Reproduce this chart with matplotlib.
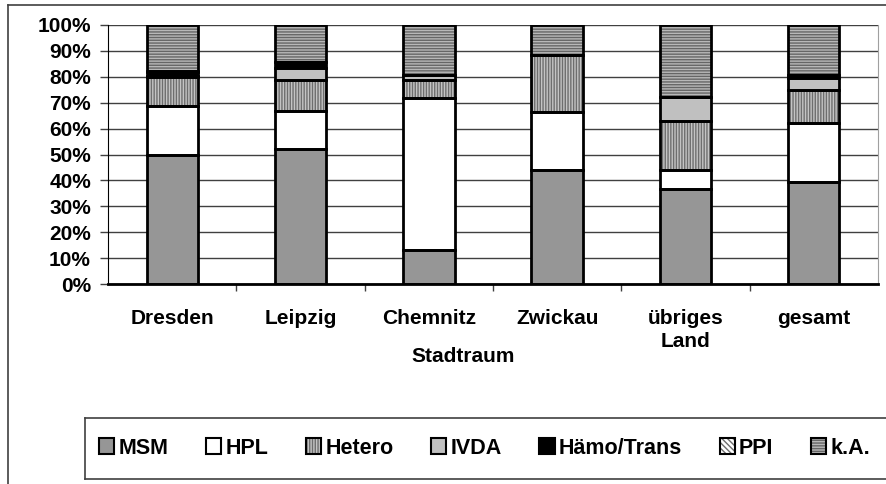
"""
Stacked percentage bars: transmission groups per Stadtraum.
"""

import numpy as np
import matplotlib
matplotlib.use("Agg")
import matplotlib.pyplot as plt
from matplotlib.patches import Patch
from matplotlib.lines import Line2D
from matplotlib.legend_handler import HandlerTuple

plt.rcParams["font.family"] = ["Liberation Sans", "DejaVu Sans"]
plt.rcParams["font.weight"] = "bold"
plt.rcParams["hatch.linewidth"] = 1.0

regions = ["Dresden", "Leipzig", "Chemnitz", "Zwickau", "übriges\nLand", "gesamt"]
groups = ["MSM", "HPL", "Hetero", "IVDA", "Hämo/Trans", "PPI", "k.A."]

msm    = [50.0, 52.0, 13.0, 44.2, 36.5, 39.4]
hpl    = [18.6, 14.7, 58.8, 22.1,  7.7, 22.8]
hetero = [11.3, 11.9,  6.8, 22.2, 18.8, 12.7]
ivda   = [ 0.6,  4.7,  2.2,  0.0,  9.3,  4.8]
haemo  = [ 1.2,  2.5,  0.0,  0.0,  0.0,  1.1]
ppi    = [ 0.4,  0.0,  0.0,  0.0,  0.0,  0.0]
ka     = [17.9, 14.2, 19.2, 11.5, 27.7, 19.2]

series = [msm, hpl, hetero, ivda, haemo, ppi, ka]
# (facecolor, hatch, hatchcolor)
styles = [
    ("#969696", None, "#969696"),
    ("#ffffff", None, "#ffffff"),
    ("#c4c4c4", "||||||", "#6e6e6e"),
    ("#c0c0c0", None, "#c0c0c0"),
    ("#000000", None, "#000000"),
    ("#ffffff", "\\\\\\\\\\\\", "#6e6e6e"),
    ("#b8b8b8", "------", "#666666"),
]

W, H = 886, 484
PX = 72 / 100  # points per pixel at dpi 100
fig = plt.figure(figsize=(W / 100, H / 100), dpi=100)
ax = fig.add_axes([108 / W, 1 - 284 / H, (878 - 108) / W, (284 - 25) / H])

x = np.arange(len(regions))
bottom = np.zeros(len(regions))
handles = []
for vals, (fc, hatch, hc) in zip(series, styles):
    vals = np.array(vals)
    ax.bar(x, vals, 0.4, bottom=bottom, color=fc, hatch=hatch,
           edgecolor=hc, linewidth=0, zorder=3)
    ax.bar(x, vals, 0.4, bottom=bottom, fill=False,
           edgecolor="black", linewidth=2, zorder=4)
    bottom += vals
    handles.append((Patch(facecolor=fc, hatch=hatch, edgecolor=hc, linewidth=0),
                    Patch(fill=False, edgecolor="black", linewidth=1.5)))

ax.set_xlim(-0.5, len(regions) - 0.5)
ax.set_ylim(0, 100)
ax.set_yticks(np.arange(0, 101, 10))
ax.set_yticklabels([f"{v}%" for v in range(0, 101, 10)], fontsize=15,
                   fontweight="bold")
ax.yaxis.grid(True, color="#404040", linewidth=1, zorder=1)
ax.tick_params(axis="y", length=8 * PX, width=1, color="#404040", pad=9 * PX)

ax.set_xticks(x)
ax.set_xticklabels(regions, fontsize=15, fontweight="bold", linespacing=1.25)
ax.set_xticks(np.arange(-0.5, len(regions), 1)[1:-1], minor=True)
ax.tick_params(axis="x", which="major", length=0, pad=25 * PX)
ax.tick_params(axis="x", which="minor", length=7 * PX, width=1, color="#404040")

ax.spines["top"].set_visible(False)
ax.spines["right"].set_color("#a0a0a0")
ax.spines["left"].set_color("black")
ax.spines["bottom"].set_color("black")
ax.spines["bottom"].set_linewidth(2)
ax.spines["bottom"].set_zorder(5)

fig.text(463 / W, 1 - 357 / H, "Stadtraum", ha="center", va="center",
         fontsize=15, fontweight="bold")

# outer chart frame (left and top edges visible)
fig.add_artist(Line2D([8 / W, 8 / W], [0, 1 - 5 / H], color="#404040",
                      linewidth=1.2, transform=fig.transFigure))
fig.add_artist(Line2D([8 / W, 1], [1 - 5 / H, 1 - 5 / H], color="#404040",
                      linewidth=1.2, transform=fig.transFigure))

# legend box
lx0, ly0, ly1 = 85 / W, 1 - 479 / H, 1 - 418 / H
for seg in [([lx0, 1], [ly0, ly0]), ([lx0, 1], [ly1, ly1]), ([lx0, lx0], [ly0, ly1])]:
    fig.add_artist(Line2D(seg[0], seg[1], color="#404040", linewidth=1.2,
                          transform=fig.transFigure))

fig.legend(handles, groups, loc="center left",
           bbox_to_anchor=(99 / W, 1 - 448 / H), ncol=7, frameon=False,
           handler_map={tuple: HandlerTuple(ndivide=1, pad=0)},
           prop={"size": 15.5, "weight": "bold"},
           handlelength=0.7, handleheight=0.7, handletextpad=0.2,
           columnspacing=1.75, borderaxespad=0, borderpad=0)

fig.savefig("out.png", dpi=100)
